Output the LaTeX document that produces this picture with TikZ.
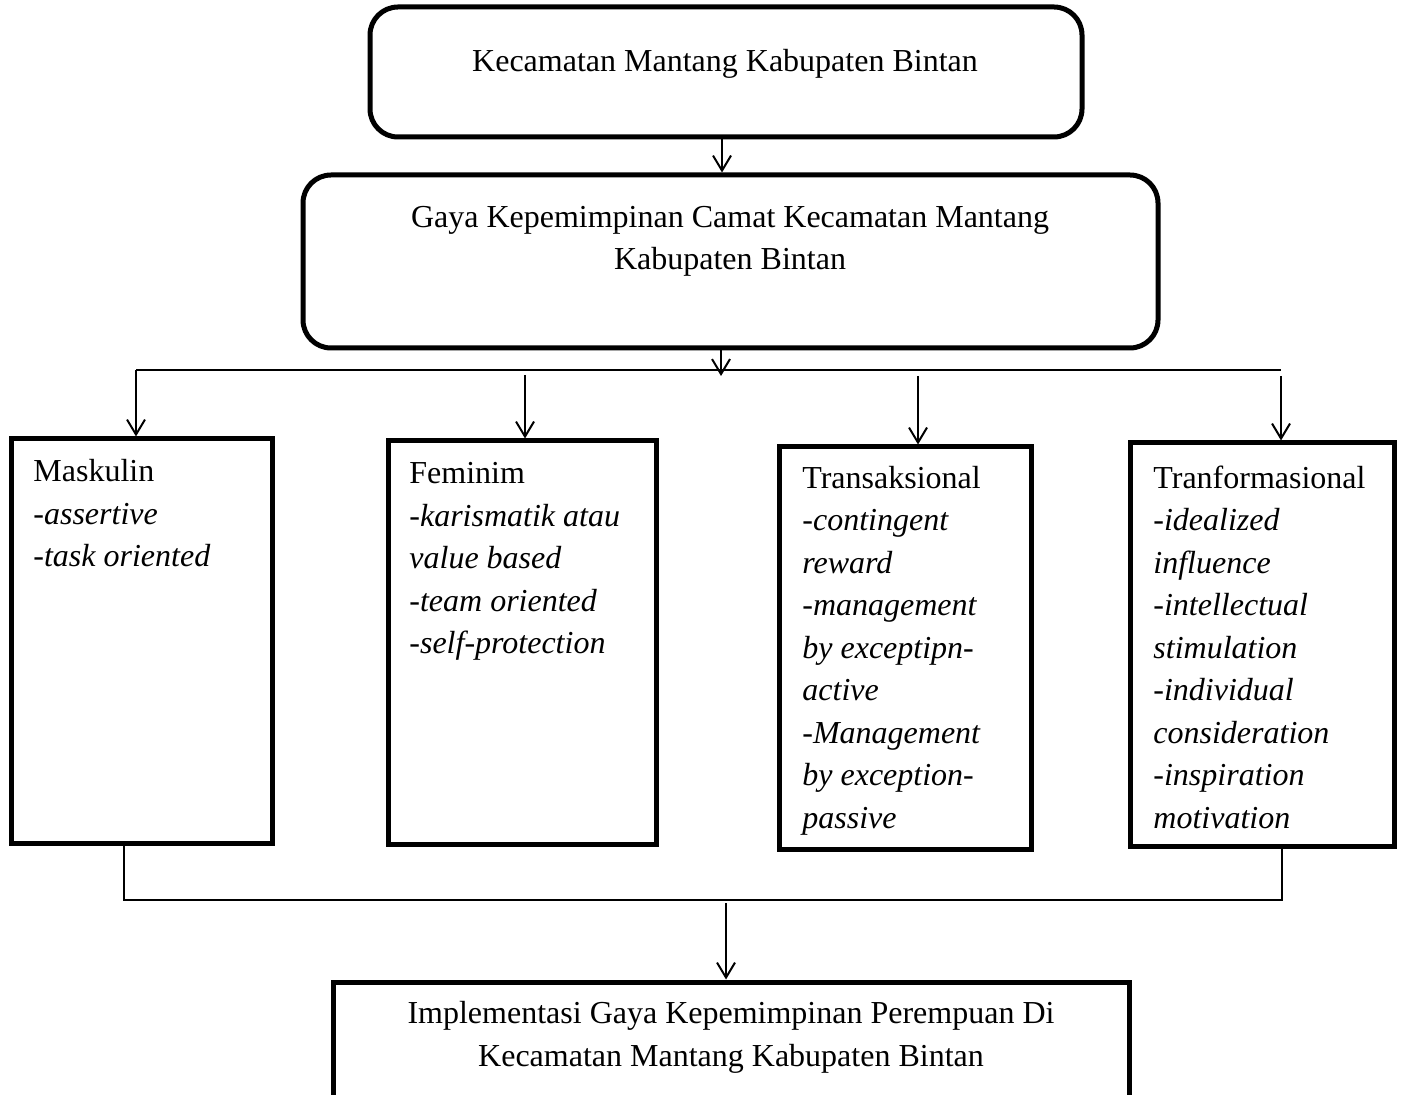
\documentclass[tikz,border=0pt]{standalone}
\usepackage{fontspec}
\setmainfont{Liberation Serif}
\usetikzlibrary{arrows.meta}
\begin{document}
\begin{tikzpicture}[x=0.5pt,y=-0.5pt,
  rbox/.style={draw,line width=2.5pt,rounded corners=14pt,inner sep=0pt},
  sbox/.style={draw,line width=2.5pt,inner sep=0pt},
  lbl/.style={inner sep=0pt,font=\fontsize{16pt}{21.25pt}\selectfont},
  conn/.style={line width=1pt},
  arr/.style={line width=1pt,-{Straight Barb[length=7.5pt,width=9pt,line width=1pt]}}]
\useasboundingbox (0,0) rectangle (1403,1095);
\clip (0,0) rectangle (1403,1095);
% boxes
\node[rbox,minimum width=356pt,minimum height=65pt] (b1) at (726,72) {};
\node[rbox,minimum width=427.5pt,minimum height=86.5pt] (b2) at (730.5,261.5) {};
\node[sbox,minimum width=130.5pt,minimum height=202.5pt] (m) at (141.5,641.5) {};
\node[sbox,minimum width=134pt,minimum height=202pt] (f) at (522,643) {};
\node[sbox,minimum width=126pt,minimum height=201.5pt] (ts) at (905,648.5) {};
\node[sbox,minimum width=132pt,minimum height=202pt] (tf) at (1262,645) {};
\node[sbox,minimum width=398pt,minimum height=79pt] (bt) at (731,1061) {};
% texts (anchor base = baseline of the last line)
\node[lbl,anchor=base] (b1t) at (725,72) {Kecamatan Mantang Kabupaten Bintan};
\node[lbl,anchor=base,align=center] (b2t) at (730,270) {Gaya Kepemimpinan Camat Kecamatan Mantang\\Kabupaten Bintan};
\node[lbl,anchor=base,align=center] (btt) at (731,1066) {Implementasi Gaya Kepemimpinan Perempuan Di\\Kecamatan Mantang Kabupaten Bintan};
\node[lbl,anchor=base west,align=left] (mt) at (33,567) {Maskulin\\\textit{-assertive}\\\textit{-task oriented}};
\node[lbl,anchor=base west,align=left] (ft) at (409,654) {Feminim\\\textit{-karismatik atau}\\\textit{value based}\\\textit{-team oriented}\\\textit{-self-protection}};
\node[lbl,anchor=base west,align=left] (tst) at (802,828) {Transaksional\\\textit{-contingent}\\\textit{reward}\\\textit{-management}\\\textit{by exceptipn-}\\\textit{active}\\\textit{-Management}\\\textit{by exception-}\\\textit{passive}};
\node[lbl,anchor=base west,align=left] (tft) at (1153,828) {Tranformasional\\\textit{-idealized}\\\textit{influence}\\\textit{-intellectual}\\\textit{stimulation}\\\textit{-individual}\\\textit{consideration}\\\textit{-inspiration}\\\textit{motivation}};
% coordinates
\coordinate (j) at (721,376);
\coordinate (hl) at (136,370);
\coordinate (hr) at (1281,370);
\coordinate (a2) at (525,375);
\coordinate (a3) at (918,376);
\coordinate (a4) at (1281,376);
\coordinate (ll) at (124,900);
\coordinate (lr) at (1282,900);
\coordinate (ba) at (726,903);
% connectors
\draw[arr] (b1.south -| 722,0) -- (b2.north -| 722,0);
\draw[arr] (b2.south -| j) -- (j);
\draw[conn] (hl) -- (hr);
\draw[arr] (hl) -- (hl |- m.north);
\draw[arr] (a2) -- (a2 |- f.north);
\draw[arr] (a3) -- (a3 |- ts.north);
\draw[arr] (a4) -- (a4 |- tf.north);
\draw[conn] (m.south -| ll) -- (ll) -- (lr) -- (tf.south -| lr);
\draw[arr] (ba) -- (ba |- bt.north);
\end{tikzpicture}
\end{document}
